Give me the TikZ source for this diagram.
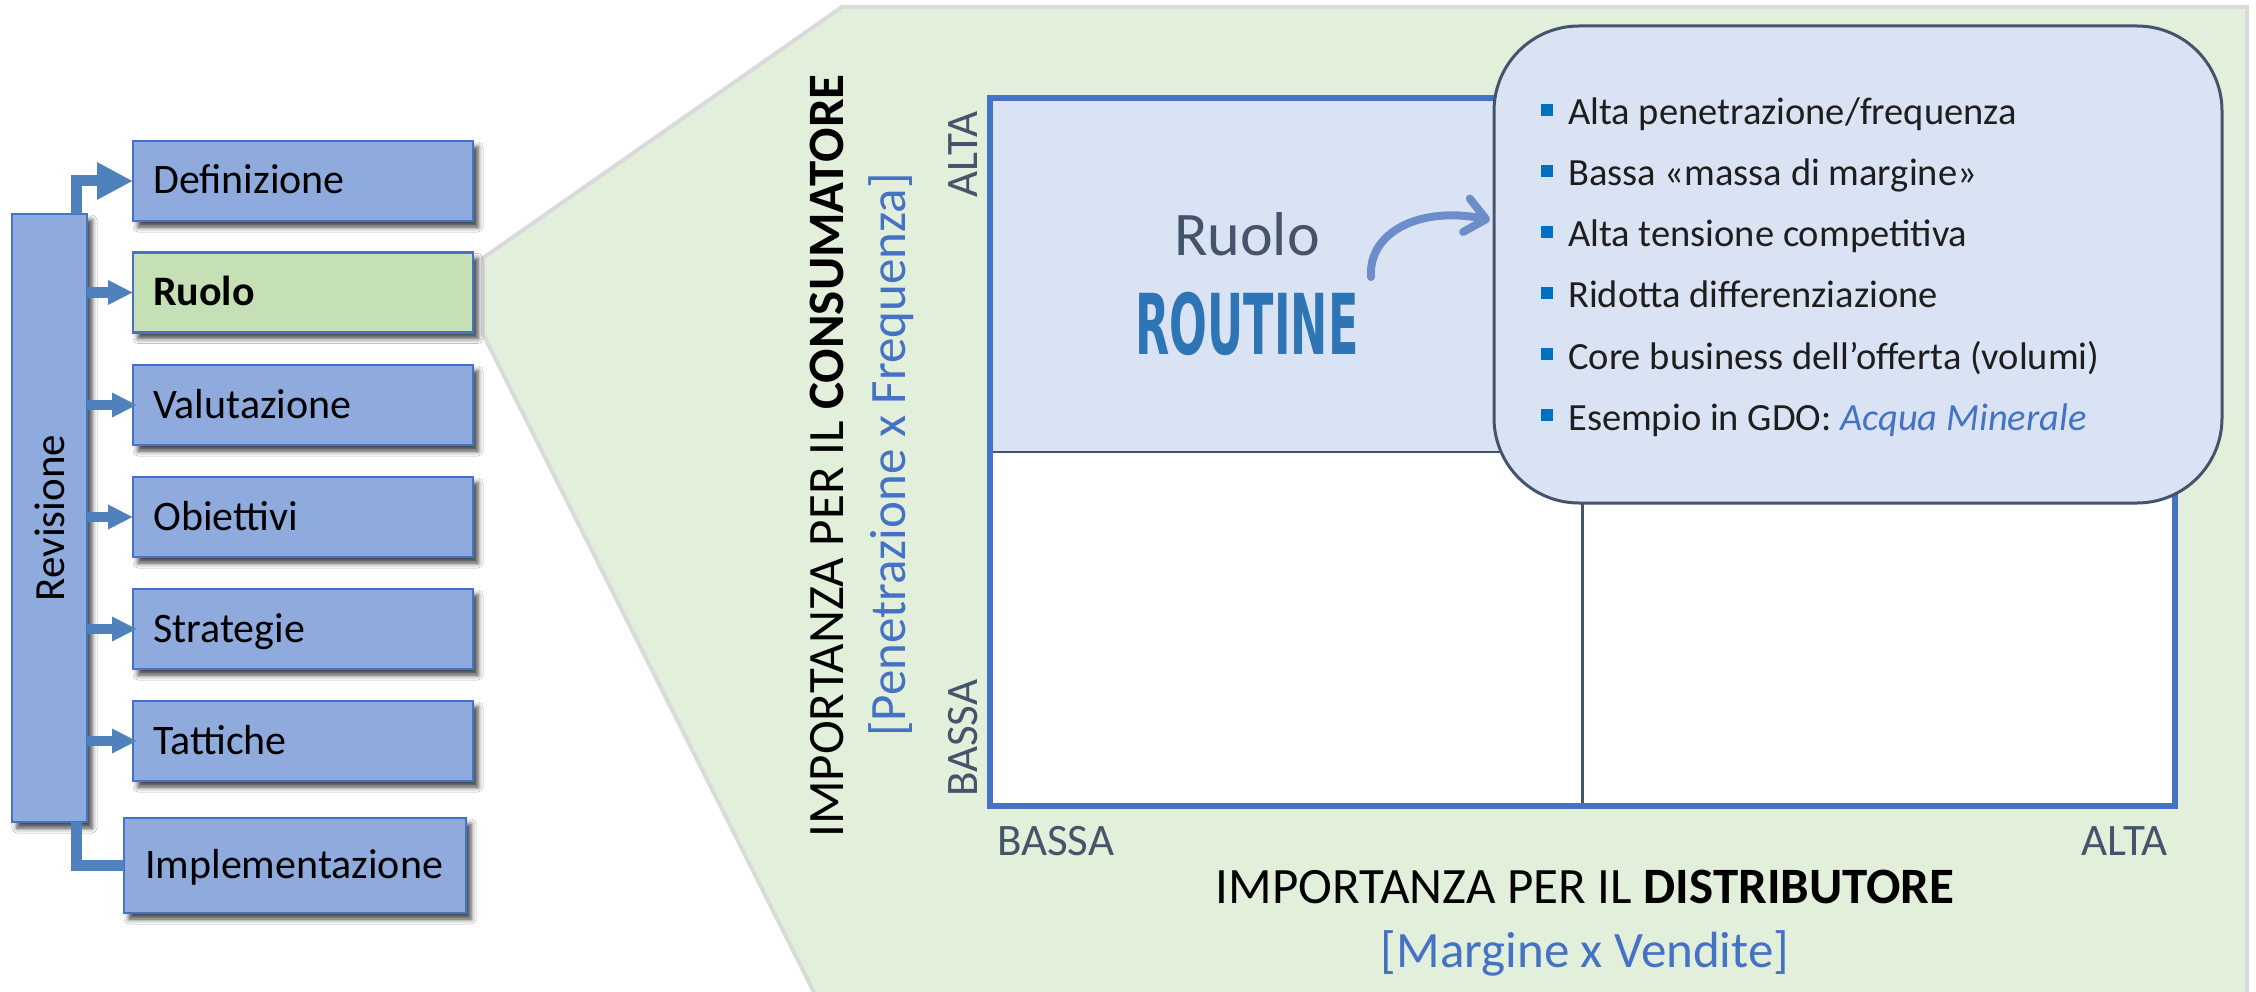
\documentclass[tikz,border=0pt]{standalone}
\usepackage{fontspec}
\setmainfont{Carlito}
\newfontfamily\routfont{DejaVu Sans}
\usetikzlibrary{arrows.meta,shadows.blur}
\definecolor{boxfill}{HTML}{8FAADC}
\definecolor{boxline}{HTML}{4472C4}
\definecolor{ruofill}{HTML}{C5E0B4}
\definecolor{arrowc}{HTML}{4F81BD}
\definecolor{greenbg}{HTML}{E2EFDA}
\definecolor{greenedge}{HTML}{DADADA}
\definecolor{matline}{HTML}{4472C4}
\definecolor{midgray}{HTML}{44546A}
\definecolor{quadfill}{HTML}{DAE3F3}
\definecolor{bulletc}{HTML}{0070C0}
\definecolor{routc}{HTML}{2E75B6}
\definecolor{labblue}{HTML}{4472C4}
\definecolor{curvec}{HTML}{6C8DC9}
\definecolor{txtc}{HTML}{1E1E1E}
\begin{document}
\begin{tikzpicture}[x=1pt,y=-1pt,
  stepbox/.style={draw=boxline, line width=2.5pt, fill=boxfill, minimum width=340pt, minimum height=80pt, inner sep=0pt, outer sep=0pt,
    blur shadow={shadow xshift=5pt, shadow yshift=-6pt, shadow blur radius=5pt, shadow opacity=75}},
  steptext/.style={anchor=west, inner sep=0pt, text height=26pt, text depth=0pt, font=\fontsize{42}{50}\selectfont},
  bigarr/.style={draw=arrowc, line width=11pt},
  smallarr/.style={draw=arrowc, line width=10pt, -{Triangle[width=23pt,length=25pt]}},
  axislab/.style={inner sep=0pt, text=midgray, font=\fontsize{45}{52}\selectfont},
  titlelab/.style={inner sep=0pt, font=\fontsize{51}{60}\selectfont},
  sublab/.style={inner sep=0pt, text=labblue, font=\fontsize{51}{60}\selectfont},
  bul/.style={fill=bulletc, minimum size=12.5pt, inner sep=0pt, outer sep=0pt},
  bultext/.style={anchor=base west, inner sep=0pt, text=txtc, font=\fontsize{38.5}{46}\selectfont},
  midline/.style={draw=midgray, line width=2.5pt},
]
\useasboundingbox (0,0) rectangle (2256,992);
\fill[white] (0,0) rectangle (2256,992);

% green zoom background
\filldraw[fill=greenbg, draw=greenedge, line width=4pt, line join=miter]
  (483,258) -- (842,7) -- (2247,7) -- (2247,1010) -- (823,1010) -- (483,334) -- cycle;

% left process column
\node[stepbox, minimum width=75pt, minimum height=608pt] (rev) at (49.5,518) {};
\node[rotate=90, inner sep=0pt, font=\fontsize{43}{50}\selectfont] (revt) at (rev.center) {Revisione};

\node[stepbox] (def) at (303,181) {};
\node[stepbox, fill=ruofill] (ruo) at (303,292.5) {};
\node[stepbox] (val) at (303,405) {};
\node[stepbox] (obi) at (303,517) {};
\node[stepbox] (str) at (303,629) {};
\node[stepbox] (tat) at (303,741) {};
\node[stepbox, minimum width=342pt, minimum height=95pt] (imp) at (295,865.5) {};

\node[steptext] (deft) at ([xshift=20pt]def.west) {Definizione};
\node[steptext, font=\fontsize{42}{50}\selectfont\bfseries] (ruot) at ([xshift=20pt]ruo.west) {Ruolo};
\node[steptext] (valt) at ([xshift=20pt]val.west) {Valutazione};
\node[steptext] (obit) at ([xshift=20pt]obi.west) {Obiettivi};
\node[steptext] (strt) at ([xshift=20pt]str.west) {Strategie};
\node[steptext] (tatt) at ([xshift=20pt]tat.west) {Tattiche};
\node[steptext] (impt) at ([xshift=21pt]imp.west) {Implementazione};

% connectors
\draw[bigarr, line join=miter, -{Triangle[width=35pt,length=36pt]}] ([xshift=27pt]rev.north) |- (def.west);
\draw[smallarr] (rev.east |- ruo.west) -- (ruo.west);
\draw[smallarr] (rev.east |- val.west) -- ([xshift=4pt]val.west);
\draw[smallarr] (rev.east |- obi.west) -- (obi.west);
\draw[smallarr] (rev.east |- str.west) -- ([xshift=4pt]str.west);
\draw[smallarr] (rev.east |- tat.west) -- ([xshift=4pt]tat.west);
\draw[bigarr, line join=miter] ([xshift=27pt]rev.south) |- (imp.west);

% matrix
\node[fill=white, minimum width=1185pt, minimum height=708pt, inner sep=0pt, outer sep=0pt] (mat) at (1582.5,452) {};
\fill[quadfill] (mat.north west) rectangle (mat.center);
\draw[midline] (mat.north) -- (mat.south);
\draw[midline] (mat.west) -- (mat.east);
\draw[draw=matline, line width=6pt] (mat.north west) rectangle (mat.south east);

% axis labels
\node[axislab, rotate=90, anchor=base east] (yalta) at (977,111) {ALTA};
\node[axislab, rotate=90, anchor=base west] (ybassa) at (977,797) {BASSA};
\node[axislab, anchor=base west] (xbassa) at (997,855) {BASSA};
\node[axislab, anchor=base east] (xalta) at (2168,855) {ALTA};

\node[titlelab, rotate=90, anchor=base] (ytitle) at (843,456) {IMPORTANZA PER IL \textbf{CONSUMATORE}};
\node[sublab, rotate=90, anchor=base] (ysub) at (905,455) {[Penetrazione x Frequenza]};
\node[titlelab, anchor=base] (xtitle) at (1585,903) {IMPORTANZA PER IL \textbf{DISTRIBUTORE}};
\node[sublab, anchor=base] (xsub) at (1585,967) {[Margine x Vendite]};

% role label
\node[anchor=base, inner sep=0pt, text=midgray, font=\fontsize{62}{70}\selectfont] (rlab) at (1247,256) {Ruolo};
\node[anchor=base, inner sep=0pt, text=routc] (rout) at (1247,354)
  {\scalebox{0.53}[1]{\fontsize{84}{90}\selectfont\routfont\bfseries ROUTINE}};

% callout
\node[draw=midgray, line width=3pt, fill=quadfill, rounded corners=85pt, minimum width=728pt, minimum height=477pt, inner sep=0pt] (call) at (1858,264.5) {};

\foreach \i/\t in {0/{Alta penetrazione/frequenza},
                   1/{Bassa «massa di margine»},
                   2/{Alta tensione competitiva},
                   3/{Ridotta differenziazione},
                   4/{Core business dell’offerta (volumi)},
                   5/{Esempio in GDO: \textcolor{labblue}{\itshape Acqua Minerale}}}{
  \node[bul] (b\i) at (1547,{110+61*\i}) {};
  \node[bultext] (bt\i) at (1568,{125+61*\i}) {\t};
}

% curved arrow
\coordinate (cstart) at (1371,277);
\coordinate (cend) at (1490,220);
\draw[draw=curvec, line width=8pt, line cap=round, -{Straight Barb[round,length=20pt,width=34pt]}]
  (cstart) .. controls (1368,232) and (1420,206) .. (cend);
\end{tikzpicture}
\end{document}
